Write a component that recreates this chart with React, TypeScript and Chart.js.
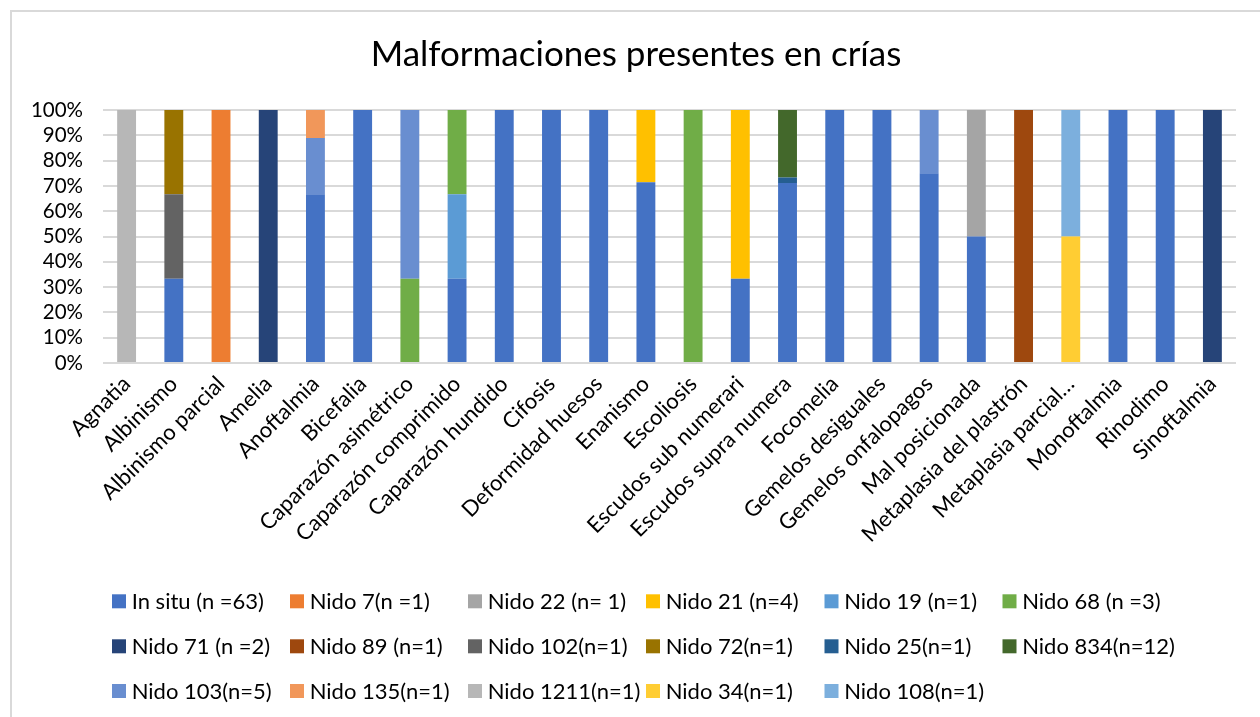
import React, { useEffect, useRef } from "react";
import { Chart, registerables } from "chart.js";

Chart.register(...registerables);

const categories = [
  "Agnatia",
  "Albinismo",
  "Albinismo parcial",
  "Amelia",
  "Anoftalmia",
  "Bicefalia",
  "Caparazón asimétrico",
  "Caparazón comprimido",
  "Caparazón hundido",
  "Cifosis",
  "Deformidad huesos",
  "Enanismo",
  "Escoliosis",
  "Escudos sub numerari",
  "Escudos supra numera",
  "Focomelia",
  "Gemelos desiguales",
  "Gemelos onfalopagos",
  "Mal posicionada",
  "Metaplasia del plastrón",
  "Metaplasia parcial…",
  "Monoftalmia",
  "Rinodimo",
  "Sinoftalmia",
];

// counts per category (24 values each)
const inSitu   = [0, 1, 0, 0, 6, 2, 0, 1, 2, 1, 2, 5, 0, 1, 32, 2, 1, 3, 1, 0, 0, 2, 1, 0];
const nido7    = [0, 0, 1, 0, 0, 0, 0, 0, 0, 0, 0, 0, 0, 0, 0, 0, 0, 0, 0, 0, 0, 0, 0, 0];
const nido22   = [0, 0, 0, 0, 0, 0, 0, 0, 0, 0, 0, 0, 0, 0, 0, 0, 0, 0, 1, 0, 0, 0, 0, 0];
const nido21   = [0, 0, 0, 0, 0, 0, 0, 0, 0, 0, 0, 2, 0, 2, 0, 0, 0, 0, 0, 0, 0, 0, 0, 0];
const nido19   = [0, 0, 0, 0, 0, 0, 0, 1, 0, 0, 0, 0, 0, 0, 0, 0, 0, 0, 0, 0, 0, 0, 0, 0];
const nido68   = [0, 0, 0, 0, 0, 0, 1, 1, 0, 0, 0, 0, 1, 0, 0, 0, 0, 0, 0, 0, 0, 0, 0, 0];
const nido71   = [0, 0, 0, 1, 0, 0, 0, 0, 0, 0, 0, 0, 0, 0, 0, 0, 0, 0, 0, 0, 0, 0, 0, 1];
const nido89   = [0, 0, 0, 0, 0, 0, 0, 0, 0, 0, 0, 0, 0, 0, 0, 0, 0, 0, 0, 1, 0, 0, 0, 0];
const nido102  = [0, 1, 0, 0, 0, 0, 0, 0, 0, 0, 0, 0, 0, 0, 0, 0, 0, 0, 0, 0, 0, 0, 0, 0];
const nido72   = [0, 1, 0, 0, 0, 0, 0, 0, 0, 0, 0, 0, 0, 0, 0, 0, 0, 0, 0, 0, 0, 0, 0, 0];
const nido25   = [0, 0, 0, 0, 0, 0, 0, 0, 0, 0, 0, 0, 0, 0, 1, 0, 0, 0, 0, 0, 0, 0, 0, 0];
const nido834  = [0, 0, 0, 0, 0, 0, 0, 0, 0, 0, 0, 0, 0, 0, 12, 0, 0, 0, 0, 0, 0, 0, 0, 0];
const nido103  = [0, 0, 0, 0, 2, 0, 2, 0, 0, 0, 0, 0, 0, 0, 0, 0, 0, 1, 0, 0, 0, 0, 0, 0];
const nido135  = [0, 0, 0, 0, 1, 0, 0, 0, 0, 0, 0, 0, 0, 0, 0, 0, 0, 0, 0, 0, 0, 0, 0, 0];
const nido1211 = [1, 0, 0, 0, 0, 0, 0, 0, 0, 0, 0, 0, 0, 0, 0, 0, 0, 0, 0, 0, 0, 0, 0, 0];
const nido34   = [0, 0, 0, 0, 0, 0, 0, 0, 0, 0, 0, 0, 0, 0, 0, 0, 0, 0, 0, 0, 1, 0, 0, 0];
const nido108  = [0, 0, 0, 0, 0, 0, 0, 0, 0, 0, 0, 0, 0, 0, 0, 0, 0, 0, 0, 0, 1, 0, 0, 0];

const seriesLabels = [
  "In situ (n =63)",
  "Nido 7(n =1)",
  "Nido 22 (n= 1)",
  "Nido 21 (n=4)",
  "Nido 19 (n=1)",
  "Nido 68 (n =3)",
  "Nido 71 (n =2)",
  "Nido 89 (n=1)",
  "Nido 102(n=1)",
  "Nido 72(n=1)",
  "Nido 25(n=1)",
  "Nido 834(n=12)",
  "Nido 103(n=5)",
  "Nido 135(n=1)",
  "Nido 1211(n=1)",
  "Nido 34(n=1)",
  "Nido 108(n=1)",
];

const seriesColors = [
  "#4472C4", "#ED7D31", "#A5A5A5", "#FFC000", "#5B9BD5", "#70AD47",
  "#264478", "#9E480E", "#636363", "#997300", "#255E91", "#43682B",
  "#698ED0", "#F1975A", "#B7B7B7", "#FFCD33", "#7CAFDD",
];

const seriesCounts = [
  inSitu, nido7, nido22, nido21, nido19, nido68, nido71, nido89, nido102,
  nido72, nido25, nido834, nido103, nido135, nido1211, nido34, nido108,
];

const yTicks = [0, 10, 20, 30, 40, 50, 60, 70, 80, 90, 100];

const FONT = "Lato, 'Open Sans', sans-serif";

const legendColX = [100, 278, 456, 634, 812.5, 990.5];
const legendRowY = [589.3, 634.3, 679];

const gridLegend = {
  id: "gridLegend",
  afterDraw(chart: any) {
    const ctx = chart.ctx;
    ctx.save();
    ctx.font = `22px ${FONT}`;
    ctx.textBaseline = "middle";
    ctx.textAlign = "left";
    chart.data.datasets.forEach((ds: any, i: number) => {
      const col = i % 6;
      const row = Math.floor(i / 6);
      const x = legendColX[col];
      const y = legendRowY[row];
      ctx.fillStyle = ds.backgroundColor;
      ctx.fillRect(x, y - 7, 14, 14);
      ctx.fillStyle = "#000";
      ctx.fillText(ds.label, x + 19.7, y + 1);
    });
    ctx.restore();
  },
};

export default function App() {
  const ref = useRef<HTMLCanvasElement | null>(null);

  useEffect(() => {
    if (!ref.current) return;
    const totals = categories.map((_, c) =>
      seriesCounts.reduce((s, arr) => s + arr[c], 0)
    );
    const datasets = seriesCounts.map((arr, i) => ({
      label: seriesLabels[i],
      data: arr.map((v, c) => (totals[c] ? (v / totals[c]) * 100 : 0)),
      backgroundColor: seriesColors[i],
      borderWidth: 0,
      barPercentage: 0.4,
      categoryPercentage: 1,
      stack: "s",
    }));

    const chart = new Chart(ref.current, {
      type: "bar",
      data: { labels: categories, datasets },
      plugins: [gridLegend],
      options: {
        responsive: false,
        animation: false,
        layout: { padding: { left: 0, right: 0, top: 0, bottom: 0 } },
        plugins: {
          legend: { display: false },
          tooltip: { enabled: false },
          title: {
            display: true,
            text: "Malformaciones presentes en crías",
            color: "#000",
            font: { family: FONT, size: 35, weight: "normal", lineHeight: 1.2 },
            padding: { top: 22, bottom: 34 },
          },
        },
        scales: {
          x: {
            stacked: true,
            grid: { display: false, drawTicks: false },
            border: { display: false },
            ticks: {
              color: "#000",
              font: { family: FONT, size: 22 },
              minRotation: 45,
              maxRotation: 45,
              autoSkip: false,
              padding: 8,
            },
            afterFit(scale: any) {
              scale.height = 354;
            },
          },
          y: {
            stacked: true,
            min: 0,
            max: 100,
            afterBuildTicks(scale: any) {
              scale.ticks = yTicks.map((v) => ({ value: v }));
            },
            grid: { color: "#d9d9d9", lineWidth: 2, drawTicks: false },
            border: { display: false },
            ticks: {
              color: "#000",
              font: { family: FONT, size: 20.5 },
              padding: 20,
              autoSkip: false,
              callback: (v: any) => `${v}%`,
            },
            afterFit(scale: any) {
              scale.width = 91;
            },
          },
          yRight: {
            position: "right",
            display: true,
            min: 0,
            max: 100,
            grid: { display: false, drawTicks: false },
            border: { display: false },
            ticks: { display: false },
            afterFit(scale: any) {
              scale.width = 24;
            },
          },
        },
      },
    });
    return () => chart.destroy();
  }, []);

  return (
    <div
      style={{
        position: "absolute",
        left: 10,
        top: 10,
        width: 1250,
        height: 707,
        borderTop: "2px solid #d9d9d9",
        borderLeft: "2px solid #d9d9d9",
        boxSizing: "border-box",
        background: "#fff",
      }}
    >
      <canvas ref={ref} width={1248} height={705} style={{ display: "block" }} />
    </div>
  );
}
